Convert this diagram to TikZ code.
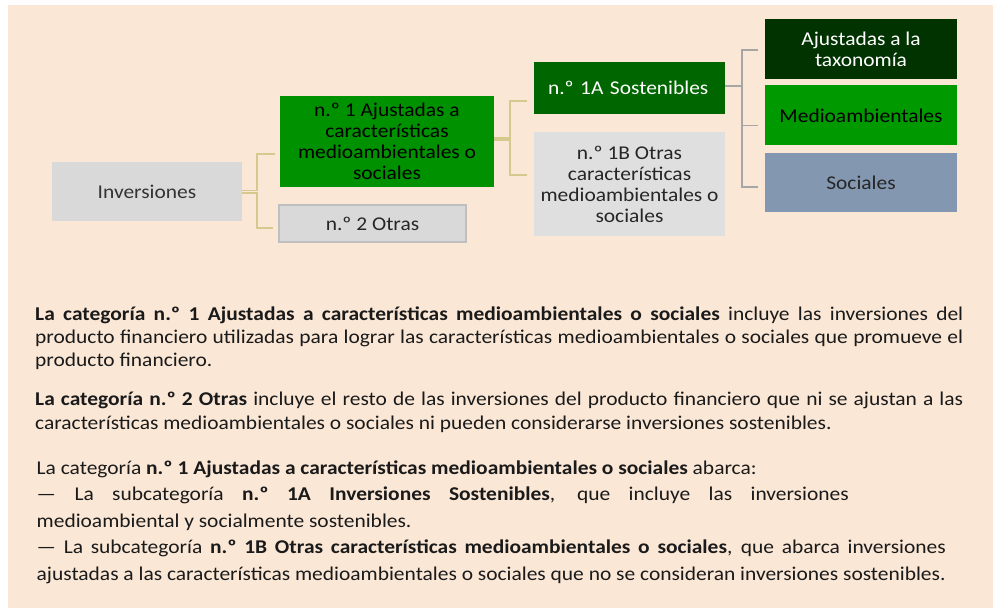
\documentclass[tikz,border=0pt]{standalone}
\usepackage{fontspec}
\setmainfont{Carlito}[FakeStretch=1.1]
\usetikzlibrary{positioning}
\definecolor{peach}{HTML}{FAE7D6}
\definecolor{boxgray}{HTML}{D9D9D9}
\definecolor{greenA}{HTML}{009100}
\definecolor{greenB}{HTML}{006600}
\definecolor{greenC}{HTML}{003300}
\definecolor{greenD}{HTML}{009900}
\definecolor{slate}{HTML}{8497B0}
\definecolor{tan}{HTML}{D6C98E}
\definecolor{txt}{HTML}{1A1A1A}

\begin{document}
\begin{tikzpicture}[x=1pt,y=-1pt,
  box/.style={rectangle, inner sep=0pt, align=center, font=\fontsize{19.5}{21}\selectfont},
  conn/.style={draw=tan, line width=1.6pt},
  conngray/.style={draw=gray!70, line width=1.6pt},
  textline/.style={anchor=base west, inner sep=0pt, font=\fontsize{19.5}{23}\selectfont, text=txt}]
\useasboundingbox (0,0) rectangle (993,608);
\fill[peach] (8,5) rectangle (993,608);

% first column
\node[box, fill=boxgray, text=black!80, minimum width=190pt, minimum height=59pt] (inv) at (147,191.5) {Inversiones};
\node[box, fill=greenA, text=black, minimum width=214pt, minimum height=91pt] (n1) at (387,141.5)
  {n.º 1 Ajustadas a\\características\\medioambientales o\\sociales};
\node[box, fill=boxgray, draw=gray!50, line width=2pt, text=black!85, minimum width=187pt, minimum height=37pt] (n2) at (372.5,223.5) {n.º 2 Otras};

% second column
\node[box, fill=greenB, text=white, text width=163pt, inner xsep=14pt, align=left, minimum height=52pt] (s1a) at (629.5,88) {n.º 1A Sostenibles};
\node[box, fill=boxgray!85!white, text=black!85, minimum width=191pt, minimum height=104pt] (s1b) at (629.5,184)
  {n.º 1B Otras\\características\\medioambientales o\\sociales};

% third column
\node[box, fill=greenC, text=white, minimum width=192pt, minimum height=60pt] (taxo) at (861,49) {Ajustadas a la\\taxonomía};
\node[box, fill=greenD, text=black, minimum width=192pt, minimum height=60pt, below=6pt of taxo] (med) {Medioambientales};
\node[box, fill=slate, text=black!85, minimum width=192pt, minimum height=59pt, below=7pt of med] (soc) {Sociales};

% brackets
\foreach \dy/\kid/\sh in {1.2/n1/-12.5,-1.2/n2/-4.5}
{
    \draw[conn] ([yshift=\dy pt]inv.east) -- ++(15,0) |- ([xshift=-5pt,yshift=\sh pt]\kid.west);
}
\foreach \dy/\kid/\sh in {3.7/s1a/-13,1.3/s1b/9}
{
    \draw[conn] ([yshift=\dy pt]n1.east) -- ++(16,0) |- ([xshift=-7pt,yshift=\sh pt]\kid.west);
}
\foreach \kid/\sh in {taxo/-1,med/-10,soc/-4.5}
{
    \draw[conngray] ([yshift=2pt]s1a.east) -- ++(17,0) |- ([xshift=-7pt,yshift=\sh pt]\kid.west);
}

% text below
\foreach \x/\y/\w/\txt [count=\i] in {
 35/320/928/{\textbf{La categoría n.º 1 Ajustadas a características medioambientales o sociales} incluye las inversiones del},
 35/343/928/{producto financiero utilizadas para lograr las características medioambientales o sociales que promueve el},
 35/405/928/{\textbf{La categoría n.º 2 Otras} incluye el resto de las inversiones del producto financiero que ni se ajustan a las},
 36.5/500.5/812/{— La subcategoría \textbf{n.º 1A Inversiones Sostenibles}, que incluye las inversiones},
 36.5/553.5/909/{— La subcategoría \textbf{n.º 1B Otras características medioambientales o sociales}, que abarca inversiones}}
{
    \node[textline] (j\i) at (\x,\y) {\makebox[\w pt][s]{\txt}};
}
\foreach \x/\y/\txt [count=\i] in {
 35/366/{producto financiero.},
 35/429/{características medioambientales o sociales ni pueden considerarse inversiones sostenibles.},
 36.5/474/{La categoría \textbf{n.º 1 Ajustadas a características medioambientales o sociales} abarca:},
 36.5/527/{medioambiental y socialmente sostenibles.},
 36.5/580/{ajustadas a las características medioambientales o sociales que no se consideran inversiones sostenibles.}}
{
    \node[textline] (r\i) at (\x,\y) {\txt};
}
\end{tikzpicture}
\end{document}
